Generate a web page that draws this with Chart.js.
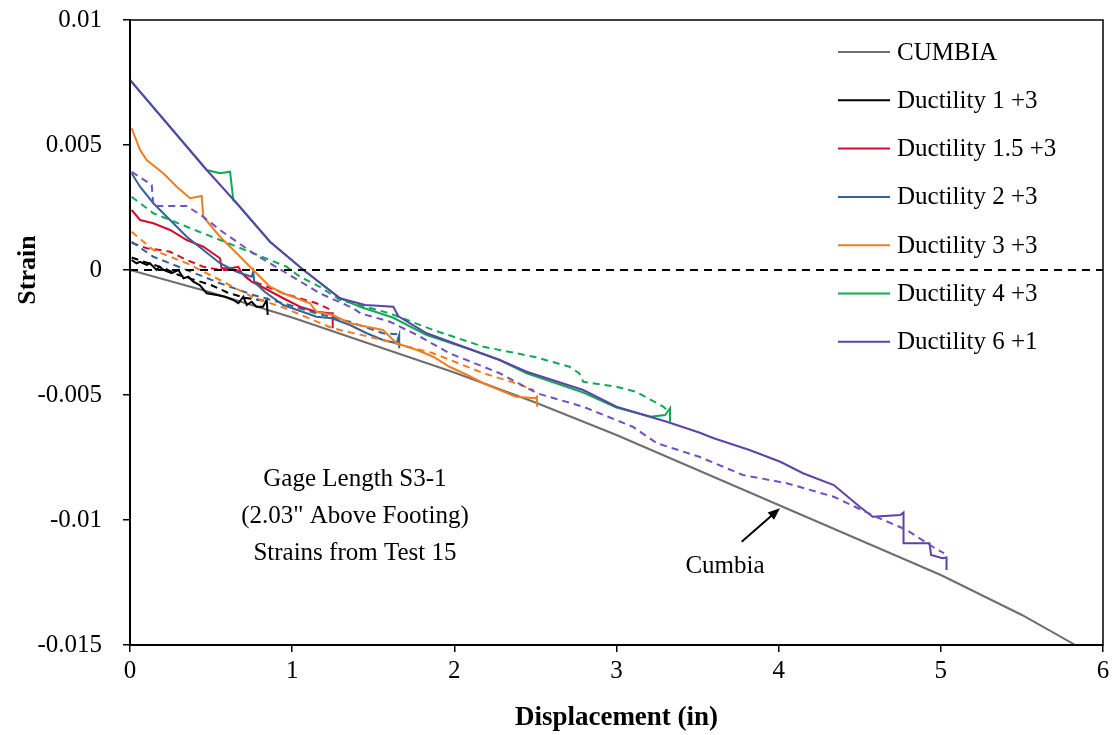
<!DOCTYPE html>
<html>
<head>
<meta charset="utf-8">
<script src="https://cdn.jsdelivr.net/npm/chart.js@4.4.1/dist/chart.umd.min.js"></script>
<style>
  html, body { margin: 0; padding: 0; background: #fff; }
</style>
</head>
<body>
<canvas id="grafica" width="1119" height="735"></canvas>
<script>
// Ticks
const xTickLabels = ['0', '1', '2', '3', '4', '5', '6'];
const yTickLabels = ['-0.015', '-0.01', '-0.005', '0', '0.005', '0.01'];
const yMin = -0.015, yMax = 0.01, yStep = 0.005;

// Series: [displacement (in), strain]
const cumbia = [[0, 0], [0.5, -0.0009], [1, -0.0019], [1.5, -0.0030], [2, -0.0041], [2.5, -0.0053],
  [3, -0.0066], [3.5, -0.0080], [4, -0.0094], [4.5, -0.0108], [5, -0.0122], [5.5, -0.0138], [5.83, -0.0150]];

const zeroLine = [[0, 0], [6, 0]];

const d1Solid = [[0.01, 0.0004], [0.04, 0.00027], [0.062, 0.00033], [0.103, 0.0002], [0.123, 0.00027],
  [0.164, 0], [0.18, 0.00013], [0.21, 0], [0.257, -0.00013], [0.298, 0], [0.33, -0.00033], [0.36, -0.00027],
  [0.39, -0.00047], [0.43, -0.0006], [0.473, -0.00093], [0.535, -0.001], [0.586, -0.00107], [0.637, -0.0012],
  [0.668, -0.00133], [0.699, -0.00107], [0.72, -0.0014], [0.75, -0.00127], [0.78, -0.00147], [0.82, -0.00147],
  [0.843, -0.0012], [0.849, -0.0018]];
const d1Dash = [[0.01, 0.0005], [0.1, 0.0003], [0.2, 0.0001], [0.3, -0.0002], [0.4, -0.0004], [0.5, -0.0006],
  [0.6, -0.0009], [0.7, -0.0011], [0.8, -0.0012], [0.85, -0.00125]];

const d15Solid = [[0.01, 0.0024], [0.062, 0.002], [0.144, 0.00187], [0.247, 0.0016], [0.35, 0.0012],
  [0.452, 0.00093], [0.555, 0.00047], [0.565, 0.00007], [0.62, 0.00007], [0.668, 0.00013], [0.689, -0.00013],
  [0.75, -0.00047], [0.83, -0.00073], [0.945, -0.00113], [1.048, -0.00147], [1.15, -0.00167], [1.233, -0.00173],
  [1.25, -0.00173], [1.25, -0.00233]];
const d15Dash = [[0.01, 0.00109], [0.103, 0.00087], [0.185, 0.0008], [0.247, 0.00073], [0.35, 0.0004],
  [0.452, 0.00013], [0.555, 0], [0.658, 0], [0.74, -0.0004], [0.945, -0.00093], [1.15, -0.00133], [1.24, -0.0016]];

const d2Solid = [[0.01, 0.00387], [0.062, 0.00333], [0.144, 0.00267], [0.247, 0.002], [0.35, 0.00133],
  [0.452, 0.0008], [0.555, 0.00027], [0.658, -0.00007], [0.75, -0.00027], [0.76, -0.00007], [0.766, -0.00047],
  [0.83, -0.00087], [0.945, -0.0014], [1.15, -0.00187], [1.245, -0.00193], [1.356, -0.0022], [1.46, -0.00253],
  [1.56, -0.0028], [1.644, -0.00293], [1.66, -0.0026], [1.66, -0.00313]];
const d2Dash = [[0.01, 0.00113], [0.144, 0.00053], [0.35, 0], [0.555, -0.00053], [0.76, -0.001],
  [0.945, -0.00133], [1.15, -0.00173], [1.356, -0.00207], [1.56, -0.00253], [1.65, -0.00257]];

const d3Solid = [[0.01, 0.00567], [0.062, 0.0048], [0.103, 0.0044], [0.205, 0.00387], [0.288, 0.00333],
  [0.37, 0.00287], [0.442, 0.00296], [0.452, 0.00213], [0.555, 0.00133], [0.658, 0.00067], [0.74, 0.00013],
  [0.863, -0.00067], [0.945, -0.00093], [1.11, -0.00133], [1.15, -0.00167], [1.25, -0.0018], [1.356, -0.00213],
  [1.46, -0.00227], [1.56, -0.0024], [1.644, -0.00293], [1.77, -0.0032], [1.87, -0.00347], [1.97, -0.00387],
  [2.08, -0.0042], [2.18, -0.00453], [2.38, -0.00507], [2.5, -0.00513], [2.51, -0.00507], [2.51, -0.00547]];
const d3Dash = [[0.01, 0.00153], [0.144, 0.0008], [0.35, 0.00027], [0.555, -0.0004], [0.76, -0.0011],
  [0.945, -0.0015], [1.25, -0.00233], [1.56, -0.0028], [1.87, -0.00333], [2.18, -0.00413], [2.38, -0.00453],
  [2.49, -0.0048]];

const d4Solid = [[0, 0.0076], [0.473, 0.004], [0.555, 0.00387], [0.617, 0.00393], [0.637, 0.0028],
  [0.658, 0.00267], [0.863, 0.00113], [1.07, 0], [1.295, -0.00113], [1.418, -0.00147], [1.62, -0.0019],
  [1.83, -0.0026], [2.11, -0.0032], [2.28, -0.0036], [2.446, -0.00413], [2.795, -0.0049], [3.0, -0.0055],
  [3.21, -0.00587], [3.3, -0.0058], [3.33, -0.00553], [3.33, -0.00607]];
const d4Dash = [[0.01, 0.00293], [0.144, 0.00227], [0.35, 0.00173], [0.555, 0.0012], [0.76, 0.00067],
  [0.966, 0.00013], [1.048, -0.00027], [1.17, -0.00067], [1.295, -0.0012], [1.6, -0.00173], [1.87, -0.0024],
  [2.18, -0.00307], [2.49, -0.00347], [2.71, -0.00387], [2.77, -0.00413], [2.795, -0.00447], [3.0, -0.00467],
  [3.12, -0.00487], [3.29, -0.00547], [3.33, -0.00573]];

const d6Solid = [[0, 0.0076], [0.473, 0.004], [0.658, 0.00267], [0.863, 0.00113], [1.07, 0], [1.295, -0.00113],
  [1.45, -0.0014], [1.624, -0.00147], [1.655, -0.00185], [1.83, -0.00253], [2.11, -0.0032], [2.28, -0.0036],
  [2.446, -0.00407], [2.795, -0.0048], [3.0, -0.00547], [3.31, -0.00607], [3.51, -0.0065], [3.6, -0.00673],
  [3.82, -0.0072], [4.01, -0.00767], [4.15, -0.00813], [4.34, -0.0086], [4.5, -0.00947], [4.58, -0.00987],
  [4.75, -0.0098], [4.77, -0.0097], [4.77, -0.01093], [4.93, -0.01093], [4.94, -0.0114], [5.01, -0.01153],
  [5.035, -0.0115], [5.035, -0.012]];
const d6Dash = [[0.01, 0.00393], [0.134, 0.0034], [0.144, 0.00256], [0.35, 0.00256], [0.452, 0.00213],
  [0.555, 0.0016], [0.76, 0.00067], [0.966, -0.00013], [1.17, -0.00093], [1.377, -0.00153], [1.42, -0.00173],
  [1.603, -0.00207], [1.77, -0.0026], [1.97, -0.00333], [2.28, -0.00413], [2.51, -0.00493], [2.795, -0.00547],
  [3.1, -0.00627], [3.25, -0.00693], [3.51, -0.00747], [3.78, -0.0082], [4.05, -0.00853], [4.34, -0.00907],
  [4.6, -0.00987], [4.79, -0.0104], [4.95, -0.01107], [5.02, -0.01133]];

// Text notes
const noteLines = ['Gage Length S3-1', '(2.03" Above Footing)', 'Strains from Test 15'];
const cumbiaNote = 'Cumbia';
const yTitle = 'Strain';

const serif = "'Liberation Serif', 'Times New Roman', serif";
Chart.defaults.font.family = serif;
Chart.defaults.color = '#000';

function series(label, pts, color, dash, inLegend) {
  return {
    label: label,
    data: pts.map(([x, y]) => ({ x: x, y: y })),
    borderColor: color,
    backgroundColor: color,
    borderWidth: 2,
    borderDash: dash,
    pointRadius: 0,
    tension: 0,
    fill: false,
    inLegend: inLegend
  };
}

const solid = [], dashed = [7, 5];

const datasets = [
  series('CUMBIA', cumbia, '#6e6e6e', solid, true),
  series('Ductility 1 +3', d1Solid, '#000000', solid, true),
  series('Ductility 1 +3 dash', d1Dash, '#000000', dashed, false),
  series('Ductility 1.5 +3', d15Solid, '#d0102c', solid, true),
  series('Ductility 1.5 +3 dash', d15Dash, '#d0102c', dashed, false),
  series('Ductility 2 +3', d2Solid, '#33639a', solid, true),
  series('Ductility 2 +3 dash', d2Dash, '#33639a', dashed, false),
  series('Ductility 3 +3', d3Solid, '#f07d1e', solid, true),
  series('Ductility 3 +3 dash', d3Dash, '#f07d1e', dashed, false),
  series('Ductility 4 +3', d4Solid, '#10aa50', solid, true),
  series('Ductility 4 +3 dash', d4Dash, '#10aa50', dashed, false),
  series('Ductility 6 +1', d6Solid, '#5a44a8', solid, true),
  series('Ductility 6 +1 dash', d6Dash, '#7050c4', dashed, false),
  series('zero', zeroLine, '#000', [8, 6], false)
];
// последние серии рисуются поверх, как в Excel
datasets.forEach((ds, i) => { ds.order = datasets.length - i; });

//Легенда внутри области графика
const boxLegend = {
  id: 'boxLegend',
  afterDraw(chart) {
    const { ctx, chartArea } = chart;
    const items = chart.data.datasets.filter(ds => ds.inLegend);
    const x0 = chartArea.right - 265;
    ctx.save();
    ctx.font = '25px ' + serif;
    ctx.textBaseline = 'middle';
    ctx.fillStyle = '#000';
    items.forEach((ds, i) => {
      const y = chartArea.top + 32 + i * 48.3;
      ctx.strokeStyle = ds.borderColor;
      ctx.lineWidth = 2;
      ctx.setLineDash([]);
      ctx.beginPath();
      ctx.moveTo(x0, y);
      ctx.lineTo(x0 + 52, y);
      ctx.stroke();
      ctx.fillText(ds.label, x0 + 59, y + 1);
    });
    ctx.restore();
  }
};

//Рамка и подписи
const notes = {
  id: 'notes',
  afterDraw(chart) {
    const { ctx, chartArea, scales } = chart;
    const px = v => scales.x.getPixelForValue(v);
    const py = v => scales.y.getPixelForValue(v);
    ctx.save();
    ctx.strokeStyle = '#000';
    ctx.lineWidth = 1.5;
    ctx.strokeRect(chartArea.left, chartArea.top, chartArea.width, chartArea.height);

    ctx.font = '25px ' + serif;
    ctx.fillStyle = '#000';
    ctx.textAlign = 'center';
    ctx.textBaseline = 'middle';
    noteLines.forEach((t, i) => ctx.fillText(t, px(1.387), py(-0.00836 - i * 0.00148)));
    ctx.fillText(cumbiaNote, px(3.669), py(-0.01184));

    // стрелка к кривой CUMBIA
    const x1 = px(3.772), y1 = py(-0.01087), x2 = px(4.008), y2 = py(-0.00953);
    const a = Math.atan2(y2 - y1, x2 - x1);
    ctx.lineWidth = 2;
    ctx.beginPath();
    ctx.moveTo(x1, y1);
    ctx.lineTo(x2 - 6 * Math.cos(a), y2 - 6 * Math.sin(a));
    ctx.stroke();
    ctx.beginPath();
    ctx.moveTo(x2, y2);
    ctx.lineTo(x2 - 13 * Math.cos(a - 0.38), y2 - 13 * Math.sin(a - 0.38));
    ctx.lineTo(x2 - 13 * Math.cos(a + 0.38), y2 - 13 * Math.sin(a + 0.38));
    ctx.closePath();
    ctx.fill();

    // заголовок оси Y
    ctx.font = 'bold 26px ' + serif;
    ctx.translate(28, py(0));
    ctx.rotate(-Math.PI / 2);
    ctx.fillText(yTitle, 0, 0);
    ctx.restore();
  }
};

const grafica = document.getElementById('grafica');

const myChart = new Chart(grafica, {
  type: 'line',
  data: { datasets: datasets },
  options: {
    responsive: false,
    animation: false,
    layout: { padding: { top: 20, right: 16, left: 0, bottom: 0 } },
    plugins: {
      legend: { display: false },
      tooltip: { enabled: false }
    },
    scales: {
      x: {
        type: 'linear',
        min: 0,
        max: 6,
        afterFit(scale) {
          scale.height = 90;
          scale.paddingLeft = 0;
          scale.paddingRight = 0;
        },
        grid: { drawOnChartArea: false, drawTicks: true, tickLength: 7, color: '#000', lineWidth: 1.5 },
        border: { display: true, color: '#000', width: 2 },
        ticks: {
          stepSize: 1,
          padding: 4,
          maxRotation: 0,
          font: { size: 25 },
          callback: v => xTickLabels[Math.round(v)]
        },
        title: {
          display: true,
          text: 'Displacement (in)',
          font: { size: 27, weight: 'bold' },
          padding: { top: 0, bottom: 1 }
        }
      },
      y: {
        min: yMin,
        max: yMax,
        afterFit(scale) {
          scale.width = 130;
          scale.paddingTop = 0;
          scale.paddingBottom = 0;
        },
        grid: { drawOnChartArea: false, drawTicks: true, tickLength: 7, color: '#000', lineWidth: 1.5 },
        border: { display: true, color: '#000', width: 2 },
        ticks: {
          stepSize: yStep,
          padding: 21,
          font: { size: 25 },
          callback: v => yTickLabels[Math.round((v - yMin) / yStep)]
        },
        title: { display: false }
      }
    }
  },
  plugins: [boxLegend, notes]
});
</script>
</body>
</html>
